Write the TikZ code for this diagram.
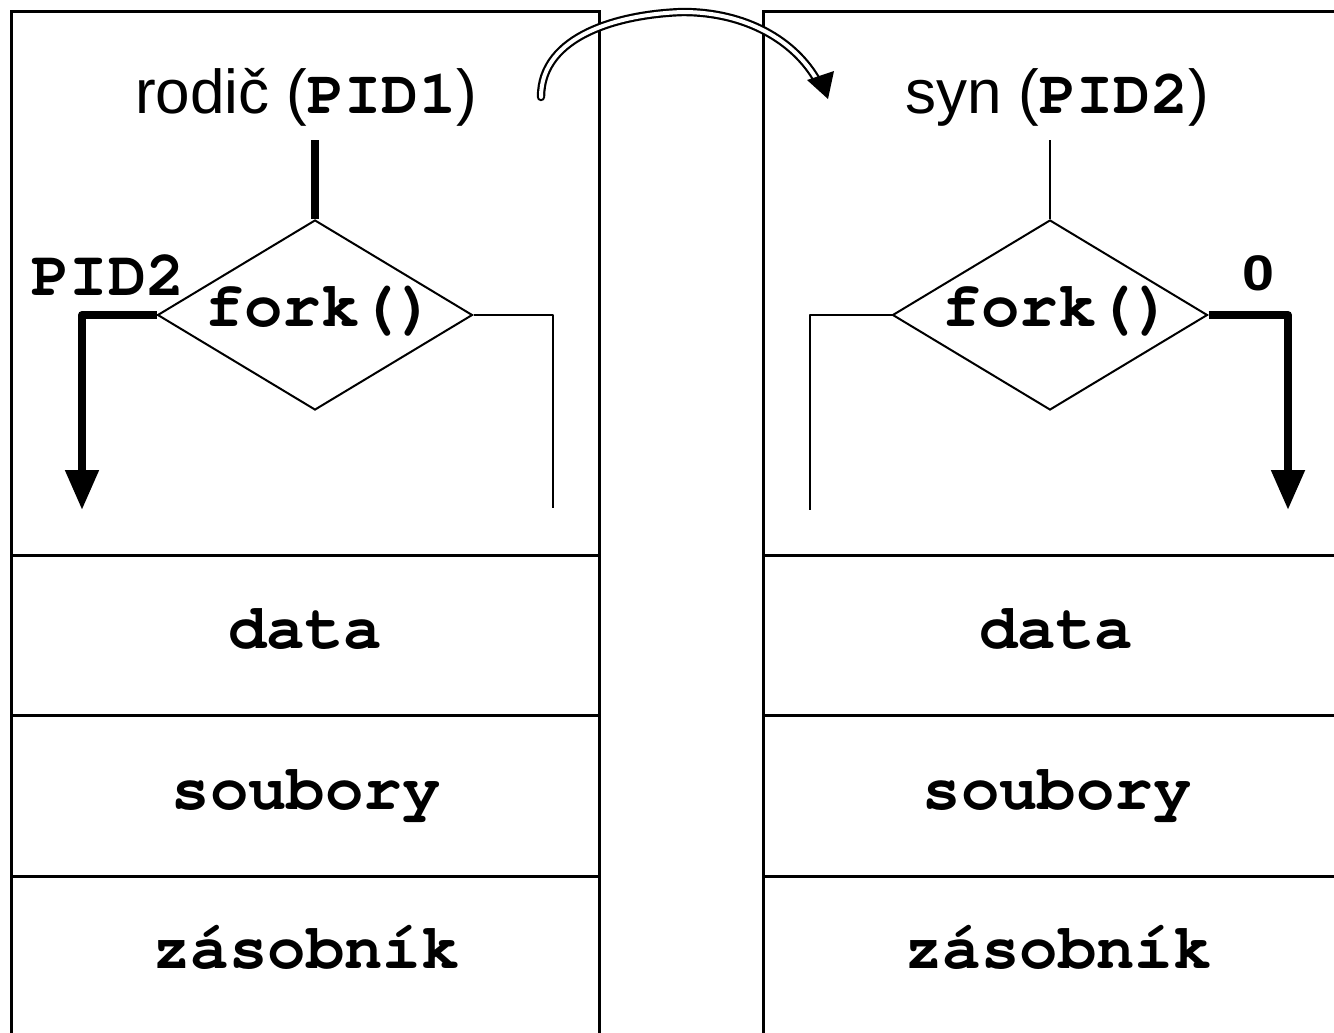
\documentclass[tikz,border=0pt]{standalone}
\usepackage{fontspec}
\setmainfont{Liberation Sans}
\setmonofont{texgyrecursor}[Extension=.otf, UprightFont=*-regular, BoldFont=*-bold]
\usetikzlibrary{shapes.geometric,arrows.meta}
\begin{document}
\begin{tikzpicture}[x=0.5pt,y=-0.5pt,
  boxline/.style={line width=1.5pt},
  thin/.style={line width=1pt, line join=round},
  thick/.style={line width=4pt, line join=round},
  big/.style={-{Triangle[length=20pt,width=16pt]}},
  dec/.style={draw, diamond, line width=1pt, minimum width=157.5pt, minimum height=95pt, inner sep=0pt},
  mono/.style={font=\fontsize{32}{36}\selectfont\ttfamily\bfseries, inner sep=0pt, anchor=base},
  sans/.style={font=\fontsize{31}{36}\selectfont, inner sep=0pt, anchor=base},
  lbl/.style={font=\fontsize{25}{28}\selectfont\bfseries, inner sep=0pt, anchor=base}]
\useasboundingbox (0,0) rectangle (1334,1033);
% boxes
\draw[boxline] (11,1040) -- (11,11) -- (599,11) -- (599,1040);
\draw[boxline] (763,1040) -- (763,11) -- (1340,11);
\foreach \y in {555,715,876} {
  \draw[boxline] (11,\y) -- (599,\y);
  \draw[boxline] (763,\y) -- (1340,\y);
}
% titles
\node[sans] (t1) at (306,113) {rodič (\texttt{\bfseries PID1})};
\node[sans] (t2) at (1057,113) {syn (\texttt{\bfseries PID2})};
% memory sections
\node[mono] (m1) at (305,648) {data};
\node[mono] (m2) at (306,809) {soubory};
\node[mono] (m3) at (306,968) {zásobník};
\node[mono] (n1) at (1056,648) {data};
\node[mono] (n2) at (1057,809) {soubory};
\node[mono] (n3) at (1058,968) {zásobník};
% diamonds
\node[dec] (d1) at (315,315) {};
\node[dec] (d2) at (1050,315) {};
\node[mono] (f1) at (321,326) {fork()};
\node[mono] (f2) at (1058,326) {fork()};
% left flow
\coordinate (a1) at (315,140);
\draw[thick] (a1) -- (d1.north);
\coordinate (l2) at (82,510);
\draw[thick,big] (d1.west) -| (l2);
\coordinate (r2) at (553,508);
\draw[thin] (d1.east) -| (r2);
\node[mono] (p2) at (108,295) {PID2};
% right flow
\coordinate (a2) at (1050,140);
\draw[thin] (a2) -- (d2.north);
\coordinate (s2) at (810,510);
\draw[thin] (d2.west) -| (s2);
\coordinate (q2) at (1288,510);
\draw[thick,big] (d2.east) -| (q2);
\node[lbl] (zero) at (1258,290) {\scalebox{1.15}[1]{0}};
% curved arrow
\coordinate (c0) at (541,97);
\coordinate (cm) at (683,12);
\coordinate (c1) at (818,82);
\coordinate (tip) at (828,99);
\draw[line width=1.1pt, double=white, double distance=2pt, line cap=round]
  (c0) .. controls (541,35) and (620,14) .. (cm) .. controls (745,12) and (795,40) .. (c1);
\fill (tip) -- (807,80) -- (834,71) -- cycle;
\end{tikzpicture}
\end{document}
